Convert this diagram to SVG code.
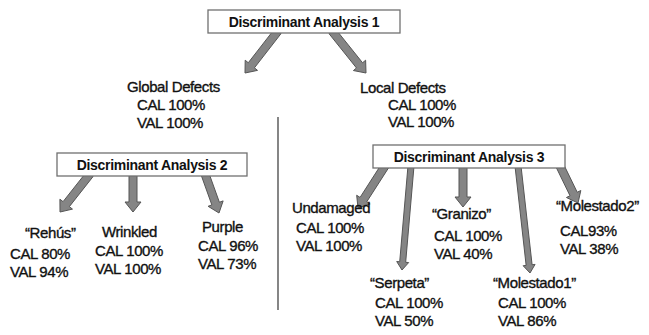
<svg xmlns="http://www.w3.org/2000/svg" width="649" height="335" viewBox="0 0 649 335">
<style>
text{font-family:"Liberation Sans",Arial,sans-serif;fill:#111;}
.t{font-size:15px;letter-spacing:-0.4px;stroke:#111;stroke-width:0.35px;}
.h{font-size:14px;font-weight:bold;letter-spacing:-0.3px;text-anchor:middle;}
.box{fill:#fff;stroke:#707070;stroke-width:1.3;}
.ar{fill:#858585;stroke:#555;stroke-width:1;stroke-linejoin:round;}
</style>
<g id="connectors">
<polygon class="ar" points="274.92,28.46 248.28,62.75 245.19,60.20 245,73 257.53,70.38 254.44,67.83 281.08,33.54"/>
<polygon class="ar" points="328.95,33.59 356.47,67.97 353.42,70.56 366,73 365.62,60.20 362.57,62.79 335.05,28.41"/>
<polygon class="ar" points="86.86,171.52 63.06,201.67 59.92,199.19 60,212 72.48,209.11 69.34,206.63 93.14,176.48"/>
<polygon class="ar" points="129,174 129,202 125,202 133,212 141,202 137,202 137,174"/>
<polygon class="ar" points="201.24,175.35 211.86,204.94 208.09,206.29 219,213 223.15,200.89 219.38,202.24 208.76,172.65"/>
<polygon class="ar" points="381.64,163.84 360.05,197.43 356.68,195.26 358,208 370.14,203.92 366.77,201.75 388.36,168.16"/>
<polygon class="ar" points="408.01,165.74 399.70,261.77 396.71,261.51 402,270 408.67,262.55 405.68,262.29 413.99,166.26"/>
<polygon class="ar" points="459,166 459,197 455,197 463,207 471,197 467,197 467,166"/>
<polygon class="ar" points="515.02,166.33 526.13,265.38 523.15,265.72 530,273 535.07,264.38 532.09,264.72 520.98,165.67"/>
<polygon class="ar" points="556.40,167.75 570.03,195.76 566.44,197.51 578,203 580.82,190.51 577.23,192.26 563.60,164.25"/>
<line x1="278" y1="117" x2="278" y2="310" stroke="#444" stroke-width="1.3"/>
</g>
<g id="da1">
<rect class="box" x="208" y="10" width="192" height="23"/>
<text class="h" x="304" y="27">Discriminant Analysis 1</text>
</g>
<g id="global">
<text class="t" x="127" y="92">Global Defects</text>
<text class="t" x="137" y="110">CAL 100%</text>
<text class="t" x="137" y="128">VAL 100%</text>
</g>
<g id="local">
<text class="t" x="360" y="93">Local Defects</text>
<text class="t" x="388" y="110">CAL 100%</text>
<text class="t" x="388" y="127">VAL 100%</text>
</g>
<g id="da2">
<rect class="box" x="57" y="153" width="190" height="23"/>
<text class="h" x="152" y="170">Discriminant Analysis 2</text>
</g>
<g id="rehus">
<text class="t" x="25" y="238">“Rehús”</text>
<text class="t" x="10" y="259">CAL 80%</text>
<text class="t" x="10" y="277">VAL 94%</text>
</g>
<g id="wrinkled">
<text class="t" x="102" y="237">Wrinkled</text>
<text class="t" x="95" y="256">CAL 100%</text>
<text class="t" x="95" y="274">VAL 100%</text>
</g>
<g id="purple">
<text class="t" x="202" y="232">Purple</text>
<text class="t" x="198" y="251">CAL 96%</text>
<text class="t" x="198" y="269">VAL 73%</text>
</g>
<g id="da3">
<rect class="box" x="373" y="145" width="192" height="23"/>
<text class="h" x="469" y="162">Discriminant Analysis 3</text>
</g>
<g id="undamaged">
<text class="t" x="292" y="213">Undamaged</text>
<text class="t" x="296" y="233">CAL 100%</text>
<text class="t" x="296" y="251">VAL 100%</text>
</g>
<g id="granizo">
<text class="t" x="432" y="219">“Granizo”</text>
<text class="t" x="434" y="241">CAL 100%</text>
<text class="t" x="434" y="259">VAL 40%</text>
</g>
<g id="molestado2">
<text class="t" x="556" y="211">“Molestado2”</text>
<text class="t" x="560" y="236">CAL93%</text>
<text class="t" x="560" y="254">VAL 38%</text>
</g>
<g id="serpeta">
<text class="t" x="370" y="288">“Serpeta”</text>
<text class="t" x="375" y="308">CAL 100%</text>
<text class="t" x="375" y="326">VAL 50%</text>
</g>
<g id="molestado1">
<text class="t" x="493" y="288">“Molestado1”</text>
<text class="t" x="498" y="308">CAL 100%</text>
<text class="t" x="498" y="326">VAL 86%</text>
</g>
</svg>
